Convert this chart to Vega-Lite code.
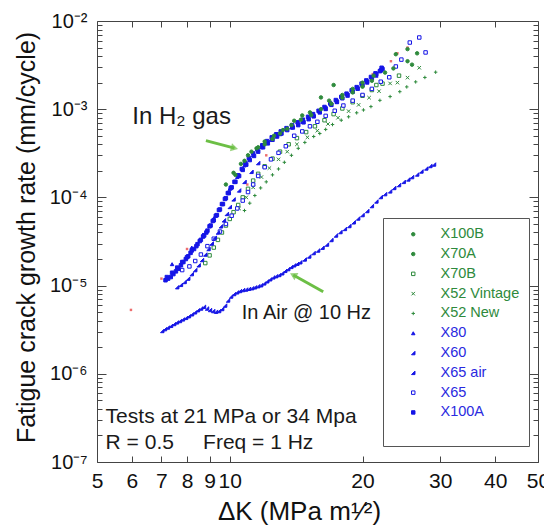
{
"$schema":"https://vega.github.io/schema/vega-lite/v6.json",
"width":441,"height":441,
"autosize":{"type":"none"},
"padding":{"left":97,"top":21,"right":6,"bottom":64},
"background":"white",
"config":{"font":"Liberation Sans","view":{"stroke":null},
 "axis":{"domainColor":"#444","tickColor":"#444","labelColor":"#111","titleColor":"#111","grid":false,"titleFontWeight":"normal","labelFont":"Liberation Sans","titleFont":"Liberation Sans"}},
"datasets":{
"pts":[
{"s":"X65 air","x":7.03,"y":3.06e-6},{"s":"X65 air","x":7.13,"y":3.21e-6},{"s":"X65 air","x":7.24,"y":3.35e-6},{"s":"X65 air","x":7.36,"y":3.5e-6},{"s":"X65 air","x":7.48,"y":3.67e-6},{"s":"X65 air","x":7.59,"y":3.83e-6},{"s":"X65 air","x":7.71,"y":3.97e-6},{"s":"X65 air","x":7.83,"y":4.14e-6},{"s":"X65 air","x":7.96,"y":4.31e-6},{"s":"X65 air","x":8.08,"y":4.5e-6},{"s":"X65 air","x":8.21,"y":4.73e-6},{"s":"X65 air","x":8.34,"y":4.98e-6},{"s":"X65 air","x":8.47,"y":5.26e-6},{"s":"X65 air","x":8.61,"y":5.5e-6},{"s":"X65 air","x":8.74,"y":5.75e-6},{"s":"X65 air","x":8.88,"y":5.5e-6},{"s":"X65 air","x":9.02,"y":5.29e-6},{"s":"X65 air","x":9.17,"y":5.15e-6},{"s":"X65 air","x":9.31,"y":5.06e-6},{"s":"X65 air","x":9.46,"y":5.15e-6},{"s":"X65 air","x":9.61,"y":5.43e-6},{"s":"X65 air","x":9.76,"y":5.94e-6},{"s":"X65 air","x":9.91,"y":6.78e-6},{"s":"X65 air","x":10.07,"y":7.52e-6},{"s":"X65 air","x":10.23,"y":8.03e-6},{"s":"X65 air","x":10.39,"y":8.39e-6},{"s":"X65 air","x":10.55,"y":8.69e-6},{"s":"X65 air","x":10.72,"y":8.91e-6},{"s":"X65 air","x":10.89,"y":9.03e-6},{"s":"X65 air","x":11.06,"y":9.2e-6},{"s":"X65 air","x":11.24,"y":9.35e-6},{"s":"X65 air","x":11.41,"y":9.57e-6},{"s":"X65 air","x":11.6,"y":9.85e-6},{"s":"X65 air","x":11.78,"y":1.01e-5},{"s":"X65 air","x":11.97,"y":1.06e-5},{"s":"X65 air","x":12.16,"y":1.12e-5},{"s":"X65 air","x":12.35,"y":1.18e-5},{"s":"X65 air","x":12.55,"y":1.24e-5},{"s":"X65 air","x":12.74,"y":1.28e-5},{"s":"X65 air","x":12.95,"y":1.32e-5},{"s":"X65 air","x":13.15,"y":1.38e-5},{"s":"X65 air","x":13.36,"y":1.47e-5},{"s":"X65 air","x":13.57,"y":1.54e-5},{"s":"X65 air","x":13.79,"y":1.63e-5},{"s":"X65 air","x":14.0,"y":1.7e-5},{"s":"X65 air","x":14.23,"y":1.77e-5},{"s":"X65 air","x":14.45,"y":1.84e-5},{"s":"X65 air","x":14.79,"y":1.98e-5},{"s":"X65 air","x":15.14,"y":2.14e-5},{"s":"X65 air","x":15.49,"y":2.34e-5},{"s":"X65 air","x":15.86,"y":2.5e-5},{"s":"X65 air","x":16.23,"y":2.69e-5},{"s":"X65 air","x":16.61,"y":2.92e-5},{"s":"X65 air","x":17.0,"y":3.29e-5},{"s":"X65 air","x":17.41,"y":3.7e-5},{"s":"X65 air","x":17.82,"y":4.05e-5},{"s":"X65 air","x":18.24,"y":4.39e-5},{"s":"X65 air","x":18.67,"y":4.74e-5},{"s":"X65 air","x":19.1,"y":5.22e-5},{"s":"X65 air","x":19.55,"y":5.77e-5},{"s":"X65 air","x":20.0,"y":6.31e-5},{"s":"X65 air","x":20.5,"y":7.01e-5},{"s":"X65 air","x":21.0,"y":7.98e-5},{"s":"X65 air","x":21.5,"y":9.0e-5},{"s":"X65 air","x":22.0,"y":1.01e-4},{"s":"X65 air","x":22.5,"y":1.09e-4},{"s":"X65 air","x":23.1,"y":1.17e-4},{"s":"X65 air","x":23.6,"y":1.28e-4},{"s":"X65 air","x":24.2,"y":1.38e-4},{"s":"X65 air","x":24.8,"y":1.5e-4},{"s":"X65 air","x":25.4,"y":1.6e-4},{"s":"X65 air","x":25.9,"y":1.7e-4},{"s":"X65 air","x":26.6,"y":1.82e-4},{"s":"X65 air","x":27.2,"y":1.97e-4},{"s":"X65 air","x":27.9,"y":2.13e-4},{"s":"X65 air","x":28.5,"y":2.27e-4},{"s":"X65 air","x":29.05,"y":2.36e-4},
{"s":"X70B","x":8.8,"y":1.8e-5},{"s":"X70B","x":9.0,"y":2.2e-5},{"s":"X70B","x":9.2,"y":2.7e-5},{"s":"X70B","x":9.4,"y":3.3e-5},{"s":"X70B","x":9.6,"y":4.0e-5},{"s":"X70B","x":9.8,"y":4.8e-5},{"s":"X70B","x":10.0,"y":5.7e-5},{"s":"X70B","x":10.2,"y":6.8e-5},{"s":"X70B","x":10.45,"y":8.2e-5},{"s":"X70B","x":10.7,"y":1.0e-4},{"s":"X70B","x":11.0,"y":1.25e-4},{"s":"X70B","x":11.3,"y":1.55e-4},{"s":"X70B","x":11.6,"y":1.85e-4},{"s":"X70B","x":12.0,"y":2.25e-4},{"s":"X70B","x":12.5,"y":2.75e-4},{"s":"X70B","x":13.0,"y":3.3e-4},{"s":"X70B","x":13.6,"y":4.0e-4},{"s":"X70B","x":14.2,"y":4.7e-4},{"s":"X70B","x":14.9,"y":5.5e-4},{"s":"X70B","x":15.6,"y":6.4e-4},{"s":"X70B","x":16.4,"y":7.5e-4},{"s":"X70B","x":17.2,"y":8.8e-4},{"s":"X70B","x":18.0,"y":1.02e-3},{"s":"X70B","x":19.0,"y":1.2e-3},{"s":"X70B","x":20.0,"y":1.42e-3},{"s":"X70B","x":21.0,"y":1.65e-3},{"s":"X70B","x":21.5,"y":1.88e-3},{"s":"X70B","x":22.2,"y":1.95e-3},{"s":"X70B","x":24.2,"y":2.4e-3},
{"s":"X52 Vintage","x":10.5,"y":7.5e-5},{"s":"X52 Vintage","x":10.9,"y":1.0e-4},{"s":"X52 Vintage","x":11.3,"y":1.3e-4},{"s":"X52 Vintage","x":11.8,"y":1.7e-4},{"s":"X52 Vintage","x":12.3,"y":2.15e-4},{"s":"X52 Vintage","x":12.9,"y":2.7e-4},{"s":"X52 Vintage","x":13.5,"y":3.3e-4},{"s":"X52 Vintage","x":14.2,"y":4.0e-4},{"s":"X52 Vintage","x":15.0,"y":4.8e-4},{"s":"X52 Vintage","x":15.8,"y":5.7e-4},{"s":"X52 Vintage","x":16.7,"y":6.8e-4},{"s":"X52 Vintage","x":17.6,"y":8.0e-4},{"s":"X52 Vintage","x":18.6,"y":9.5e-4},{"s":"X52 Vintage","x":19.6,"y":1.12e-3},{"s":"X52 Vintage","x":20.7,"y":1.35e-3},{"s":"X52 Vintage","x":21.8,"y":1.6e-3},{"s":"X52 Vintage","x":23.1,"y":1.96e-3},{"s":"X52 Vintage","x":24.0,"y":2.0e-3},{"s":"X52 Vintage","x":25.3,"y":2.28e-3},{"s":"X52 Vintage","x":26.9,"y":2.95e-3},
{"s":"X52 New","x":10.8,"y":7.1e-5},{"s":"X52 New","x":11.1,"y":8.6e-5},{"s":"X52 New","x":11.4,"y":1.05e-4},{"s":"X52 New","x":11.75,"y":1.28e-4},{"s":"X52 New","x":12.1,"y":1.5e-4},{"s":"X52 New","x":12.5,"y":1.8e-4},{"s":"X52 New","x":12.9,"y":2.1e-4},{"s":"X52 New","x":13.3,"y":2.5e-4},{"s":"X52 New","x":13.8,"y":3.0e-4},{"s":"X52 New","x":14.3,"y":3.6e-4},{"s":"X52 New","x":14.8,"y":4.2e-4},{"s":"X52 New","x":15.5,"y":4.9e-4},{"s":"X52 New","x":16.0,"y":5.3e-4},{"s":"X52 New","x":16.5,"y":5.9e-4},{"s":"X52 New","x":17.1,"y":6.7e-4},{"s":"X52 New","x":17.9,"y":7.5e-4},{"s":"X52 New","x":18.6,"y":8.2e-4},{"s":"X52 New","x":19.4,"y":9.1e-4},{"s":"X52 New","x":20.1,"y":9.8e-4},{"s":"X52 New","x":20.9,"y":1.07e-3},{"s":"X52 New","x":21.9,"y":1.26e-3},{"s":"X52 New","x":23.1,"y":1.39e-3},{"s":"X52 New","x":24.3,"y":1.58e-3},{"s":"X52 New","x":25.2,"y":1.79e-3},{"s":"X52 New","x":26.4,"y":2.04e-3},{"s":"X52 New","x":27.7,"y":2.29e-3},{"s":"X52 New","x":29.3,"y":2.63e-3},
{"s":"X65","x":7.8,"y":1.5e-5},{"s":"X65","x":8.1,"y":1.65e-5},{"s":"X65","x":8.35,"y":1.9e-5},{"s":"X65","x":8.6,"y":2.25e-5},{"s":"X65","x":8.9,"y":2.8e-5},{"s":"X65","x":9.2,"y":3.4e-5},{"s":"X65","x":9.5,"y":4.1e-5},{"s":"X65","x":9.8,"y":5.0e-5},{"s":"X65","x":10.1,"y":6.2e-5},{"s":"X65","x":10.4,"y":7.5e-5},{"s":"X65","x":10.7,"y":9.2e-5},{"s":"X65","x":11.0,"y":1.15e-4},{"s":"X65","x":11.3,"y":1.4e-4},{"s":"X65","x":11.6,"y":1.75e-4},{"s":"X65","x":12.0,"y":2.2e-4},{"s":"X65","x":12.4,"y":2.7e-4},{"s":"X65","x":12.9,"y":3.2e-4},{"s":"X65","x":13.4,"y":3.8e-4},{"s":"X65","x":14.0,"y":5.0e-4},{"s":"X65","x":14.6,"y":5.6e-4},{"s":"X65","x":15.2,"y":6.4e-4},{"s":"X65","x":15.8,"y":7.2e-4},{"s":"X65","x":16.5,"y":8.4e-4},{"s":"X65","x":17.3,"y":9.6e-4},{"s":"X65","x":18.1,"y":1.1e-3},{"s":"X65","x":19.0,"y":1.25e-3},{"s":"X65","x":20.0,"y":1.45e-3},{"s":"X65","x":21.0,"y":1.7e-3},{"s":"X65","x":22.0,"y":2.05e-3},{"s":"X65","x":23.0,"y":2.3e-3},{"s":"X65","x":23.8,"y":3.05e-3},{"s":"X65","x":24.5,"y":3.65e-3},{"s":"X65","x":25.6,"y":5.7e-3},{"s":"X65","x":26.9,"y":6.5e-3},{"s":"X65","x":27.8,"y":4.4e-3},
{"s":"X60","x":7.6,"y":9.6e-6},{"s":"X60","x":7.75,"y":1.02e-5},{"s":"X60","x":7.9,"y":1.1e-5},{"s":"X60","x":8.05,"y":1.2e-5},{"s":"X60","x":8.2,"y":1.35e-5},{"s":"X60","x":8.35,"y":1.5e-5},{"s":"X60","x":8.5,"y":1.7e-5},{"s":"X60","x":8.65,"y":1.95e-5},{"s":"X60","x":8.8,"y":2.25e-5},{"s":"X60","x":8.95,"y":2.6e-5},{"s":"X60","x":9.1,"y":3.0e-5},{"s":"X60","x":9.25,"y":3.5e-5},{"s":"X60","x":9.4,"y":4.0e-5},{"s":"X60","x":9.55,"y":4.7e-5},{"s":"X60","x":9.7,"y":5.5e-5},{"s":"X60","x":9.85,"y":6.5e-5},{"s":"X60","x":10.0,"y":7.8e-5},{"s":"X60","x":10.2,"y":9.5e-5},{"s":"X60","x":10.5,"y":1.2e-4},{"s":"X60","x":10.8,"y":1.5e-4},{"s":"X60","x":11.2,"y":1.95e-4},{"s":"X60","x":11.6,"y":2.45e-4},
{"s":"X80","x":7.4,"y":1.75e-5},{"s":"X80","x":8.2,"y":2.7e-5},{"s":"X80","x":8.7,"y":3.8e-5},{"s":"X80","x":9.2,"y":5.8e-5},{"s":"X80","x":9.6,"y":8.5e-5},{"s":"X80","x":10.0,"y":1.25e-4},{"s":"X80","x":10.4,"y":1.7e-4},{"s":"X80","x":10.8,"y":2.3e-4},{"s":"X80","x":11.3,"y":3.0e-4},{"s":"X80","x":11.8,"y":3.7e-4},{"s":"X80","x":12.4,"y":4.5e-4},{"s":"X80","x":13.0,"y":5.2e-4},{"s":"X80","x":13.8,"y":6.2e-4},{"s":"X80","x":14.6,"y":7.2e-4},{"s":"X80","x":15.5,"y":8.6e-4},{"s":"X80","x":16.5,"y":1.0e-3},{"s":"X80","x":17.5,"y":1.2e-3},{"s":"X80","x":18.5,"y":1.42e-3},{"s":"X80","x":19.5,"y":1.7e-3},{"s":"X80","x":20.5,"y":2.0e-3},{"s":"X80","x":21.5,"y":2.4e-3},
{"s":"X100A","x":7.15,"y":1.15e-5},{"s":"X100A","x":7.25,"y":1.2e-5},{"s":"X100A","x":7.35,"y":1.25e-5},{"s":"X100A","x":7.45,"y":1.35e-5},{"s":"X100A","x":7.55,"y":1.45e-5},{"s":"X100A","x":7.65,"y":1.55e-5},{"s":"X100A","x":7.75,"y":1.7e-5},{"s":"X100A","x":7.85,"y":1.85e-5},{"s":"X100A","x":7.95,"y":2.0e-5},{"s":"X100A","x":8.05,"y":2.15e-5},{"s":"X100A","x":8.15,"y":2.35e-5},{"s":"X100A","x":8.3,"y":2.6e-5},{"s":"X100A","x":8.45,"y":2.95e-5},{"s":"X100A","x":8.6,"y":3.3e-5},{"s":"X100A","x":8.75,"y":3.7e-5},{"s":"X100A","x":8.9,"y":4.2e-5},{"s":"X100A","x":9.05,"y":4.8e-5},{"s":"X100A","x":9.2,"y":5.5e-5},{"s":"X100A","x":9.35,"y":6.3e-5},{"s":"X100A","x":9.5,"y":7.3e-5},{"s":"X100A","x":9.65,"y":8.4e-5},{"s":"X100A","x":9.8,"y":9.8e-5},{"s":"X100A","x":9.95,"y":1.12e-4},{"s":"X100A","x":10.1,"y":1.3e-4},{"s":"X100A","x":10.3,"y":1.5e-4},{"s":"X100A","x":10.5,"y":1.75e-4},{"s":"X100A","x":10.7,"y":2.05e-4},{"s":"X100A","x":10.9,"y":2.35e-4},{"s":"X100A","x":11.1,"y":2.65e-4},{"s":"X100A","x":11.35,"y":2.95e-4},{"s":"X100A","x":11.6,"y":3.3e-4},{"s":"X100A","x":11.9,"y":3.7e-4},{"s":"X100A","x":12.2,"y":4.1e-4},{"s":"X100A","x":12.5,"y":4.5e-4},{"s":"X100A","x":12.8,"y":4.9e-4},{"s":"X100A","x":13.1,"y":5.3e-4},{"s":"X100A","x":13.5,"y":5.8e-4},{"s":"X100A","x":13.9,"y":6.2e-4},{"s":"X100A","x":14.3,"y":6.6e-4},{"s":"X100A","x":14.7,"y":7.1e-4},{"s":"X100A","x":15.1,"y":7.7e-4},{"s":"X100A","x":15.5,"y":8.3e-4},{"s":"X100A","x":16.0,"y":9.2e-4},{"s":"X100A","x":16.5,"y":1.02e-3},{"s":"X100A","x":17.0,"y":1.12e-3},{"s":"X100A","x":17.5,"y":1.22e-3},{"s":"X100A","x":18.0,"y":1.33e-3},{"s":"X100A","x":18.5,"y":1.45e-3},{"s":"X100A","x":19.0,"y":1.58e-3},{"s":"X100A","x":19.5,"y":1.72e-3},{"s":"X100A","x":20.0,"y":1.88e-3},{"s":"X100A","x":20.5,"y":2.05e-3},{"s":"X100A","x":21.0,"y":2.25e-3},{"s":"X100A","x":21.5,"y":2.5e-3},{"s":"X100A","x":22.0,"y":2.75e-3},{"s":"X100A","x":22.2,"y":2.85e-3},
{"s":"X100A","x":7.2,"y":1.25e-5},{"s":"X100A","x":7.4,"y":1.4e-5},{"s":"X100A","x":7.6,"y":1.6e-5},{"s":"X100A","x":7.8,"y":1.85e-5},{"s":"X100A","x":8.0,"y":2.1e-5},{"s":"X100A","x":8.2,"y":2.5e-5},{"s":"X100A","x":8.4,"y":2.8e-5},{"s":"X100A","x":8.55,"y":3.2e-5},{"s":"X100A","x":8.7,"y":3.6e-5},{"s":"X100A","x":8.85,"y":4.0e-5},{"s":"X100A","x":9.0,"y":4.7e-5},{"s":"X100A","x":9.15,"y":5.4e-5},{"s":"X100A","x":9.3,"y":6.2e-5},{"s":"X100A","x":9.45,"y":7.2e-5},{"s":"X100A","x":9.6,"y":8.4e-5},{"s":"X100A","x":9.75,"y":9.6e-5},{"s":"X100A","x":9.9,"y":1.12e-4},{"s":"X100A","x":10.05,"y":1.28e-4},{"s":"X100A","x":10.25,"y":1.5e-4},{"s":"X100A","x":10.45,"y":1.78e-4},{"s":"X100A","x":10.65,"y":2.1e-4},{"s":"X100A","x":10.85,"y":2.45e-4},{"s":"X100A","x":11.05,"y":2.8e-4},{"s":"X100A","x":11.3,"y":3.15e-4},{"s":"X100A","x":11.55,"y":3.5e-4},{"s":"X100A","x":11.85,"y":3.9e-4},{"s":"X100A","x":12.15,"y":4.35e-4},{"s":"X100A","x":12.45,"y":4.8e-4},{"s":"X100A","x":12.75,"y":5.2e-4},{"s":"X100A","x":13.05,"y":5.6e-4},{"s":"X100A","x":13.45,"y":6.1e-4},{"s":"X100A","x":13.85,"y":6.6e-4},{"s":"X100A","x":14.25,"y":7.1e-4},{"s":"X100A","x":14.65,"y":7.6e-4},{"s":"X100A","x":15.05,"y":8.2e-4},{"s":"X100A","x":15.45,"y":8.8e-4},{"s":"X100A","x":15.9,"y":9.6e-4},{"s":"X100A","x":16.4,"y":1.06e-3},{"s":"X100A","x":16.9,"y":1.16e-3},{"s":"X100A","x":17.4,"y":1.27e-3},{"s":"X100A","x":17.9,"y":1.38e-3},{"s":"X100A","x":18.4,"y":1.5e-3},{"s":"X100A","x":18.9,"y":1.64e-3},{"s":"X100A","x":19.4,"y":1.78e-3},{"s":"X100A","x":19.9,"y":1.95e-3},{"s":"X100A","x":20.4,"y":2.12e-3},{"s":"X100A","x":20.9,"y":2.32e-3},{"s":"X100A","x":21.4,"y":2.55e-3},{"s":"X100A","x":21.9,"y":2.7e-3},{"s":"X100A","x":22.1,"y":2.95e-3},
{"s":"X70A","x":9.8,"y":1.4e-4},{"s":"X70A","x":10.2,"y":1.9e-4},{"s":"X70A","x":10.6,"y":2.4e-4},{"s":"X70A","x":11.0,"y":3.0e-4},{"s":"X70A","x":11.5,"y":3.6e-4},{"s":"X70A","x":12.0,"y":4.3e-4},{"s":"X70A","x":12.6,"y":5.0e-4},{"s":"X70A","x":13.2,"y":5.8e-4},{"s":"X70A","x":13.8,"y":6.6e-4},{"s":"X70A","x":14.5,"y":7.6e-4},{"s":"X70A","x":15.3,"y":8.6e-4},{"s":"X70A","x":16.1,"y":1.0e-3},{"s":"X70A","x":17.0,"y":1.15e-3},{"s":"X70A","x":18.0,"y":1.35e-3},{"s":"X70A","x":19.0,"y":1.55e-3},{"s":"X70A","x":20.0,"y":1.8e-3},{"s":"X70A","x":21.0,"y":2.1e-3},{"s":"X70A","x":22.5,"y":2.6e-3},{"s":"X70A","x":23.5,"y":2.9e-3},{"s":"X70A","x":25.3,"y":3.5e-3},{"s":"X70A","x":25.9,"y":3.2e-3},
{"s":"X100B","x":10.3,"y":1.8e-4},{"s":"X100B","x":10.8,"y":2.6e-4},{"s":"X100B","x":11.2,"y":3.3e-4},{"s":"X100B","x":11.6,"y":3.7e-4},{"s":"X100B","x":12.0,"y":4.0e-4},{"s":"X100B","x":12.5,"y":4.6e-4},{"s":"X100B","x":13.0,"y":5.3e-4},{"s":"X100B","x":13.5,"y":6.0e-4},{"s":"X100B","x":14.0,"y":7.4e-4},{"s":"X100B","x":14.6,"y":8.5e-4},{"s":"X100B","x":15.2,"y":9.2e-4},{"s":"X100B","x":16.1,"y":1.36e-3},{"s":"X100B","x":16.8,"y":1.25e-3},{"s":"X100B","x":17.2,"y":1.88e-3},{"s":"X100B","x":18.0,"y":1.45e-3},{"s":"X100B","x":19.0,"y":1.7e-3},{"s":"X100B","x":20.0,"y":2.0e-3},{"s":"X100B","x":21.2,"y":2.4e-3},{"s":"X100B","x":23.8,"y":4.2e-3},{"s":"X100B","x":25.3,"y":4.8e-3},{"s":"X100B","x":26.6,"y":4.3e-3}
],
"red":[{"x":5.97,"y":5.3e-6},{"x":7.0,"y":1.2e-5},{"x":8.0,"y":2.6e-5},{"x":9.0,"y":4.7e-5},{"x":10.96,"y":1.4e-4},{"x":12.1,"y":3.0e-4},{"x":17.0,"y":1.1e-3},{"x":21.1,"y":2.5e-3},{"x":23.2,"y":3.5e-3},{"x":24.0,"y":4.3e-3},{"x":25.3,"y":5.0e-3}]
},
"layer":[
{"data":{"name":"red"},
 "mark":{"type":"square","size":6,"color":"#e53030"},
 "encoding":{
  "x":{"field":"x","type":"quantitative","scale":{"type":"log","domain":[5,50],"nice":false},
   "axis":{"orient":"top","values":[6,7,8,9,10,20,30,40],"labels":false,"tickSize":-6,"title":null,"domainColor":"#444"}},
  "y":{"field":"y","type":"quantitative","scale":{"type":"log","domain":[1e-7,1e-2],"nice":false},
   "axis":{"orient":"right","values":[1e-7,2e-7,3e-7,4e-7,5e-7,6e-7,7e-7,8e-7,9e-7,1e-6,2e-6,3e-6,4e-6,5e-6,6e-6,7e-6,8e-6,9e-6,1e-5,2e-5,3e-5,4e-5,5e-5,6e-5,7e-5,8e-5,9e-5,1e-4,2e-4,3e-4,4e-4,5e-4,6e-4,7e-4,8e-4,9e-4,1e-3,2e-3,3e-3,4e-3,5e-3,6e-3,7e-3,8e-3,9e-3,1e-2],
   "labels":false,"title":null,
   "tickSize":{"condition":{"test":"abs(log(datum.value)/LN10 - round(log(datum.value)/LN10)) < 0.01","value":-9},"value":-5}}}
 }},
{"data":{"name":"pts"},
 "mark":{"type":"point","strokeWidth":1,"opacity":1},
 "encoding":{
  "x":{"field":"x","type":"quantitative","scale":{"type":"log","domain":[5,50],"nice":false},
   "axis":{"orient":"bottom","values":[5,6,7,8,9,10,20,30,40,50],"format":"d","labelFontSize":21,"tickSize":-6,"labelPadding":14,"labelFlush":false,"labelOverlap":false,
    "title":"ΔK (MPa m¹⁄²)","titleFontSize":26,"titleX":202,"titleY":49,"titleBaseline":"middle","titleAlign":"center"}},
  "y":{"field":"y","type":"quantitative","scale":{"type":"log","domain":[1e-7,1e-2],"nice":false},
   "axis":{"orient":"left","values":[1e-7,2e-7,3e-7,4e-7,5e-7,6e-7,7e-7,8e-7,9e-7,1e-6,2e-6,3e-6,4e-6,5e-6,6e-6,7e-6,8e-6,9e-6,1e-5,2e-5,3e-5,4e-5,5e-5,6e-5,7e-5,8e-5,9e-5,1e-4,2e-4,3e-4,4e-4,5e-4,6e-4,7e-4,8e-4,9e-4,1e-3,2e-3,3e-3,4e-3,5e-3,6e-3,7e-3,8e-3,9e-3,1e-2],
    "labelExpr":"abs(log(datum.value)/LN10 - round(log(datum.value)/LN10)) > 0.01 ? '' : ['10⁻⁷','10⁻⁶','10⁻⁵','10⁻⁴','10⁻³','10⁻²'][round(log(datum.value)/LN10)+7]",
    "labelFontSize":20,"labelPadding":19,"labelOverlap":false,"labelBound":false,"labelFlush":false,
    "tickSize":{"condition":{"test":"abs(log(datum.value)/LN10 - round(log(datum.value)/LN10)) < 0.01","value":-9},"value":-5},
    "title":"Fatigue crack growth rate (mm/cycle)","titleFontSize":25,"titleX":-71,"titleY":216,"titleBaseline":"middle","titleAlign":"center","titleAngle":-90}},
  "shape":{"field":"s","type":"nominal","scale":{"domain":["X100B","X70A","X70B","X52 Vintage","X52 New","X80","X60","X65 air","X65","X100A"],
    "range":["circle","circle","square","M-1,-1L1,1M1,-1L-1,1","M-1,0L1,0M0,-1L0,1","triangle-up","M-1,1L1,1L1,-1Z","M-1,1L1,1L1,-1Z","square","square"]},
   "legend":{"orient":"none","legendX":286,"legendY":197,"title":"\u00a0","titleOrient":"bottom","titleFontSize":14,"titlePadding":4,"strokeColor":"#555","fillColor":"white","padding":9,"symbolOffset":14,"labelOffset":20,"labelFontSize":14.5,"labelFont":"Liberation Sans","rowPadding":4.8,"symbolStrokeWidth":1,"labelLimit":200,
    "labelColor":{"expr":"indexof(['X80','X60','X65 air','X65','X100A'], datum.value) >= 0 ? '#2a2ae0' : '#2e8a3c'"}}},
  "stroke":{"field":"s","type":"nominal","scale":{"domain":["X100B","X70A","X70B","X52 Vintage","X52 New","X80","X60","X65 air","X65","X100A"],
    "range":["#2e8a3c","#2e8a3c","#2e8a3c","#2e8a3c","#2e8a3c","#1515e6","#1515e6","#1515e6","#1515e6","#1515e6"]},
   "legend":{"orient":"none","legendX":286,"legendY":197,"title":"\u00a0","titleOrient":"bottom","titleFontSize":14,"titlePadding":4,"strokeColor":"#555","fillColor":"white","padding":9,"symbolOffset":14,"labelOffset":20,"labelFontSize":14.5,"labelFont":"Liberation Sans","rowPadding":4.8,"symbolStrokeWidth":1,"labelLimit":200,
    "labelColor":{"expr":"indexof(['X80','X60','X65 air','X65','X100A'], datum.value) >= 0 ? '#2a2ae0' : '#2e8a3c'"}}},
  "fill":{"field":"s","type":"nominal","scale":{"domain":["X100B","X70A","X70B","X52 Vintage","X52 New","X80","X60","X65 air","X65","X100A"],
    "range":["#2e8a3c","#2e8a3c","white","#2e8a3c","#2e8a3c","#1515e6","#1515e6","#1515e6","white","#1515e6"]},
   "legend":{"orient":"none","legendX":286,"legendY":197,"title":"\u00a0","titleOrient":"bottom","titleFontSize":14,"titlePadding":4,"strokeColor":"#555","fillColor":"white","padding":9,"symbolOffset":14,"labelOffset":20,"labelFontSize":14.5,"labelFont":"Liberation Sans","rowPadding":4.8,"symbolStrokeWidth":1,"labelLimit":200,
    "labelColor":{"expr":"indexof(['X80','X60','X65 air','X65','X100A'], datum.value) >= 0 ? '#2a2ae0' : '#2e8a3c'"}}},
  "size":{"field":"s","type":"nominal","scale":{"domain":["X100B","X70A","X70B","X52 Vintage","X52 New","X80","X60","X65 air","X65","X100A"],
    "range":[12,12,14,12,14,14,8,7,14,24]},
   "legend":{"orient":"none","legendX":286,"legendY":197,"title":"\u00a0","titleOrient":"bottom","titleFontSize":14,"titlePadding":4,"strokeColor":"#555","fillColor":"white","padding":9,"symbolOffset":14,"labelOffset":20,"labelFontSize":14.5,"labelFont":"Liberation Sans","rowPadding":4.8,"symbolStrokeWidth":1,"labelLimit":200,
    "labelColor":{"expr":"indexof(['X80','X60','X65 air','X65','X100A'], datum.value) >= 0 ? '#2a2ae0' : '#2e8a3c'"}}}
 }},
{"data":{"values":[{"x":8.83,"y":4.4e-4,"x2":10.25,"y2":3.62e-4},{"x":16.29,"y":8.53e-6,"x2":13.93,"y2":1.32e-5}]},
 "mark":{"type":"rule","color":"#6cbf45","strokeWidth":3},
 "encoding":{
  "x":{"field":"x","type":"quantitative","scale":{"type":"log","domain":[5,50],"nice":false},"axis":null},
  "y":{"field":"y","type":"quantitative","scale":{"type":"log","domain":[1e-7,1e-2],"nice":false},"axis":null},
  "x2":{"field":"x2"},"y2":{"field":"y2"}}},
{"data":{"values":[{"x":10.25,"y":3.62e-4}]},
 "mark":{"type":"point","shape":"triangle-right","size":70,"filled":true,"color":"#6cbf45","angle":14.5},
 "encoding":{
  "x":{"field":"x","type":"quantitative","scale":{"type":"log","domain":[5,50],"nice":false},"axis":null},
  "y":{"field":"y","type":"quantitative","scale":{"type":"log","domain":[1e-7,1e-2],"nice":false},"axis":null}}},
{"data":{"values":[{"x":13.93,"y":1.32e-5}]},
 "mark":{"type":"point","shape":"triangle-right","size":70,"filled":true,"color":"#6cbf45","angle":208.5},
 "encoding":{
  "x":{"field":"x","type":"quantitative","scale":{"type":"log","domain":[5,50],"nice":false},"axis":null},
  "y":{"field":"y","type":"quantitative","scale":{"type":"log","domain":[1e-7,1e-2],"nice":false},"axis":null}}},
{"data":{"values":[{"x":6.01,"y":6.75e-4,"t":"In H₂ gas"}]},
 "mark":{"type":"text","align":"left","baseline":"alphabetic","fontSize":24,"color":"#1a1a1a"},
 "encoding":{
  "x":{"field":"x","type":"quantitative","scale":{"type":"log","domain":[5,50],"nice":false},"axis":null},
  "y":{"field":"y","type":"quantitative","scale":{"type":"log","domain":[1e-7,1e-2],"nice":false},"axis":null},
  "text":{"field":"t"}}},
{"data":{"values":[{"x":10.65,"y":4.15e-6,"t":"In Air @ 10 Hz"}]},
 "mark":{"type":"text","align":"left","baseline":"alphabetic","fontSize":20,"color":"#1a1a1a"},
 "encoding":{
  "x":{"field":"x","type":"quantitative","scale":{"type":"log","domain":[5,50],"nice":false},"axis":null},
  "y":{"field":"y","type":"quantitative","scale":{"type":"log","domain":[1e-7,1e-2],"nice":false},"axis":null},
  "text":{"field":"t"}}},
{"data":{"values":[{"x":5.23,"y":2.74e-7,"t":"Tests at 21 MPa or 34 Mpa"},{"x":5.23,"y":1.39e-7,"t":"R = 0.5"},{"x":8.7,"y":1.39e-7,"t":"Freq = 1 Hz"}]},
 "mark":{"type":"text","align":"left","baseline":"alphabetic","fontSize":21,"color":"#1a1a1a"},
 "encoding":{
  "x":{"field":"x","type":"quantitative","scale":{"type":"log","domain":[5,50],"nice":false},"axis":null},
  "y":{"field":"y","type":"quantitative","scale":{"type":"log","domain":[1e-7,1e-2],"nice":false},"axis":null},
  "text":{"field":"t"}}}
],
"resolve":{"axis":{"x":"independent","y":"independent"}}
}
